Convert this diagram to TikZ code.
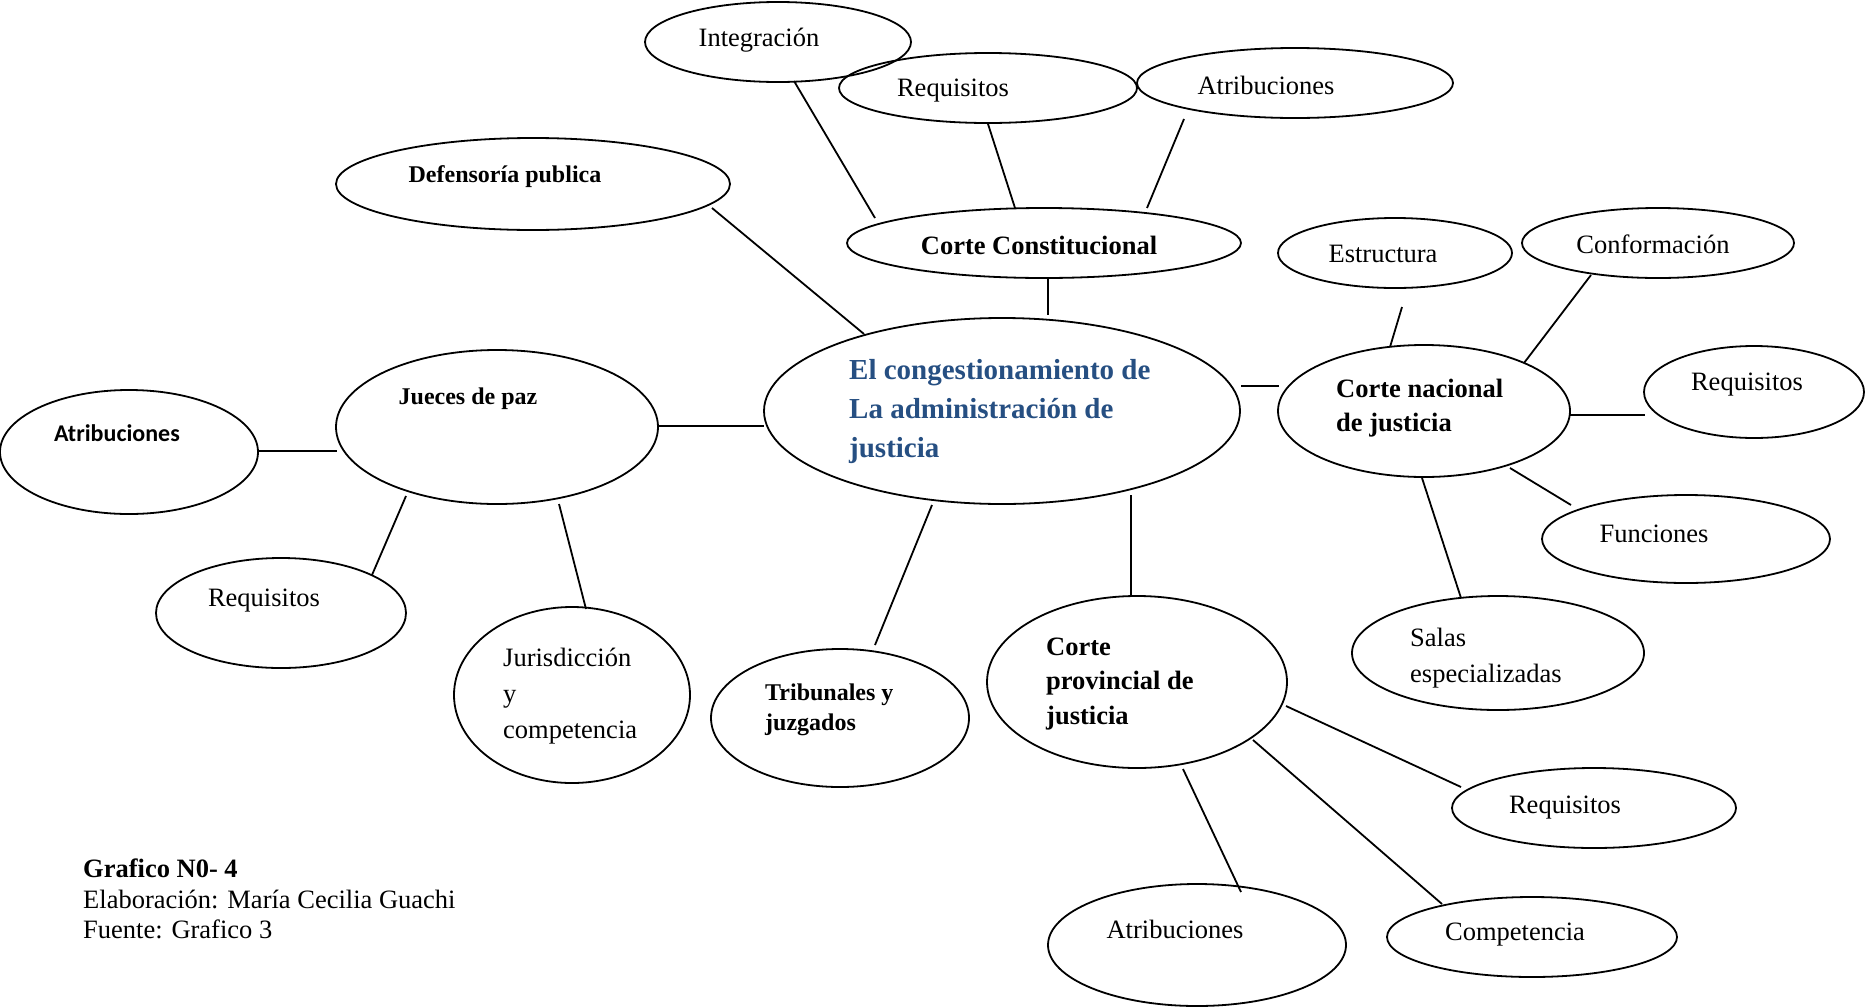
\documentclass[tikz,border=0pt]{standalone}
\usepackage{fontspec}
\setmainfont{Liberation Serif}
\newfontfamily\calfont{Carlito}
\usetikzlibrary{shapes.geometric}
\definecolor{mainblue}{RGB}{38,79,130}
\tikzset{
  ell/.style={draw, ellipse, line width=1.8pt, inner sep=0pt},
  conn/.style={line width=1.8pt},
  lbl/.style={inner sep=0pt, font=\fontsize{26.5}{31}\selectfont},
  blbl/.style={inner sep=0pt, font=\fontsize{26.5}{34.5}\selectfont\bfseries, align=left, anchor=west},
  rlbl/.style={inner sep=0pt, font=\fontsize{26.5}{36}\selectfont, align=left, anchor=west},
}
\begin{document}
\begin{tikzpicture}[x=1pt,y=-1pt]
\useasboundingbox (0,0) rectangle (1866,1007);
% ellipses
\node[ell, minimum width=266pt, minimum height=80pt] (eInt) at (778,42) {};
\node[ell, minimum width=298pt, minimum height=70pt] (eReqT) at (988,88) {};
\node[ell, minimum width=316pt, minimum height=70pt] (eAtrT) at (1295,83) {};
\node[ell, minimum width=394pt, minimum height=92pt] (eDef) at (533,184) {};
\node[ell, minimum width=394pt, minimum height=70pt] (eCC) at (1044,243) {};
\node[ell, minimum width=234pt, minimum height=70pt] (eEst) at (1395,253) {};
\node[ell, minimum width=272pt, minimum height=70pt] (eConf) at (1658,243) {};
\node[ell, minimum width=476pt, minimum height=186pt] (eMain) at (1002,411) {};
\node[ell, minimum width=292pt, minimum height=132pt] (eCNJ) at (1424,411) {};
\node[ell, minimum width=220pt, minimum height=92pt] (eReqR) at (1754,392) {};
\node[ell, minimum width=288pt, minimum height=88pt] (eFun) at (1686,539) {};
\node[ell, minimum width=292pt, minimum height=114pt] (eSal) at (1498,653) {};
\node[ell, minimum width=322pt, minimum height=154pt] (eJP) at (497,427) {};
\node[ell, minimum width=258pt, minimum height=124pt] (eAtrL) at (129,452) {};
\node[ell, minimum width=250pt, minimum height=110pt] (eReqL) at (281,613) {};
\node[ell, minimum width=236pt, minimum height=176pt] (eJur) at (572,695) {};
\node[ell, minimum width=258pt, minimum height=138pt] (eTri) at (840,718) {};
\node[ell, minimum width=300pt, minimum height=172pt] (eCPJ) at (1137,682) {};
\node[ell, minimum width=284pt, minimum height=80pt] (eReqB) at (1594,808) {};
\node[ell, minimum width=298pt, minimum height=122pt] (eAtrB) at (1197,945) {};
\node[ell, minimum width=290pt, minimum height=80pt] (eComp) at (1532,937) {};
% labels
\node[lbl] (tInt) at (759,40) {Integración};
\node[lbl] (tReqT) at (953,91) {Requisitos};
\node[lbl] (tAtrT) at (1266,85) {Atribuciones};
\node[lbl, font=\fontsize{24}{28}\selectfont\bfseries] (tDef) at (505,177) {Defensoría publica};
\node[lbl, font=\fontsize{26.5}{31}\selectfont\bfseries] (tCC) at (1039,245) {Corte Constitucional};
\node[lbl] (tEst) at (1383,254) {Estructura};
\node[lbl] (tConf) at (1653,244) {Conformación};
\node[blbl, font=\fontsize{29}{39}\selectfont\bfseries, text=mainblue] (tMain) at (849,412) {El congestionamiento de\\La administración de\\justicia};
\node[blbl] (tCNJ) at (1336,408) {Corte nacional\\de justicia};
\node[lbl] (tReqR) at (1747,385) {Requisitos};
\node[lbl] (tFun) at (1654,534) {Funciones};
\node[rlbl] (tSal) at (1410,658) {Salas\\especializadas};
\node[lbl, font=\fontsize{24}{28}\selectfont\bfseries] (tJP) at (468,399) {Jueces de paz};
\node[lbl, font=\fontsize{24}{28}\selectfont\calfont\bfseries] (tAtrL) at (117,433) {Atribuciones};
\node[lbl] (tReqL) at (264,601) {Requisitos};
\node[rlbl] (tJur) at (503,696) {Jurisdicción\\y\\competencia};
\node[blbl, font=\fontsize{24}{30}\selectfont\bfseries] (tTri) at (765,710) {Tribunales y\\juzgados};
\node[blbl] (tCPJ) at (1046,684) {Corte\\provincial de\\justicia};
\node[lbl] (tReqB) at (1565,808) {Requisitos};
\node[lbl] (tAtrB) at (1175,929) {Atribuciones};
\node[lbl] (tComp) at (1515,935) {Competencia};
\node[inner sep=0pt, font=\fontsize{26.5}{30.5}\selectfont, align=left, anchor=west] (tFoot) at (83,899) {\textbf{Grafico N0- 4}\\Elaboración: María Cecilia Guachi\\Fuente: Grafico 3};
% connector end points
\coordinate (a1) at (794,81);   \coordinate (a2) at (875,218);
\coordinate (b1) at (988,124);  \coordinate (b2) at (1015,208);
\coordinate (c1) at (1184,119); \coordinate (c2) at (1147,208);
\coordinate (d1) at (712,208);  \coordinate (d2) at (864,334);
\coordinate (e1) at (1048,277); \coordinate (e2) at (1048,315);
\coordinate (f1) at (1241,386); \coordinate (f2) at (1279,386);
\coordinate (g1) at (1402,307); \coordinate (g2) at (1390,347);
\coordinate (h1) at (1591,275); \coordinate (h2) at (1524,363);
\coordinate (i1) at (1570,415); \coordinate (i2) at (1645,415);
\coordinate (j1) at (1510,468); \coordinate (j2) at (1571,505);
\coordinate (k1) at (1422,478); \coordinate (k2) at (1461,598);
\coordinate (l1) at (658,426);  \coordinate (l2) at (764,426);
\coordinate (m1) at (259,451);  \coordinate (m2) at (337,451);
\coordinate (n1) at (406,496);  \coordinate (n2) at (372,575);
\coordinate (o1) at (559,504);  \coordinate (o2) at (586,609);
\coordinate (p1) at (932,505);  \coordinate (p2) at (875,645);
\coordinate (q1) at (1131,495); \coordinate (q2) at (1131,596);
\coordinate (r1) at (1286,706); \coordinate (r2) at (1461,787);
\coordinate (s1) at (1253,740); \coordinate (s2) at (1442,904);
\coordinate (u1) at (1183,769); \coordinate (u2) at (1241,892);
\foreach \p/\q in {a1/a2,b1/b2,c1/c2,d1/d2,e1/e2,f1/f2,g1/g2,h1/h2,i1/i2,j1/j2,k1/k2,l1/l2,m1/m2,n1/n2,o1/o2,p1/p2,q1/q2,r1/r2,s1/s2,u1/u2}
  \draw[conn] (\p) -- (\q);
\end{tikzpicture}
\end{document}
